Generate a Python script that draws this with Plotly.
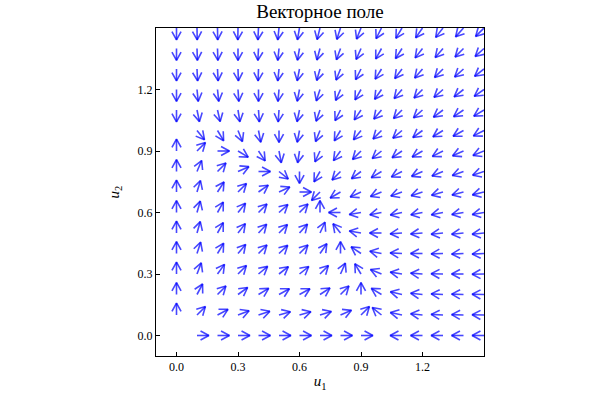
import math
import plotly.figure_factory as ff

# grid of points where the arrows start
u1_vals = [0.0, 0.1, 0.2, 0.3, 0.4, 0.5, 0.6, 0.7, 0.8, 0.9, 1.0, 1.1, 1.2, 1.3, 1.4, 1.5]
u2_vals = [0.0, 0.1, 0.2, 0.3, 0.4, 0.5, 0.6, 0.7, 0.8, 0.9, 1.0, 1.1, 1.2, 1.3, 1.4, 1.5]

# arrow direction (degrees, counter-clockwise from +u1),
# one list per row of u2; None = no arrow (rest point)
row_00 = [None, 0, 0, 0, 0, 0, 0, 0, 0, 0, None, 180, 180, 180, 180, 180]
row_01 = [90, 45, 28, 21, 18, 16, 16, 17, 23, 45, 141, 168, 174, 177, 178, 179]
row_02 = [90, 62, 45, 36, 31, 29, 29, 33, 45, 90, 149, 167, 174, 177, 178, 179]
row_03 = [90, 69, 54, 45, 40, 38, 39, 45, 66, 121, 158, 171, 176, 179, 180, 181]
row_04 = [90, 72, 59, 50, 45, 43, 45, 55, 90, 146, 169, 177, 180, 182, 183, 183]
row_05 = [90, 74, 61, 52, 47, 45, 48, 65, 129, 170, 180, 184, 185, 186, 186, 186]
row_06 = [90, 74, 61, 51, 45, 42, 45, 90, 180, 190, 191, 192, 191, 191, 190, 190]
row_07 = [90, 73, 57, 45, 35, 25, 0, 225, 210, 205, 202, 200, 198, 196, 195, 194]
row_08 = [90, 67, 45, 24, 0, 321, 270, 240, 225, 217, 211, 207, 204, 202, 200, 198]
row_09 = [90, 45, 0, 329, 304, 281, 261, 245, 234, 225, 219, 214, 210, 207, 204, 202]
row_10 = [None, 309, 301, 292, 281, 270, 259, 248, 239, 231, 225, 220, 216, 212, 209, 207]
row_11 = [270, 282, 283, 279, 274, 266, 258, 251, 243, 236, 230, 225, 221, 217, 214, 211]
row_12 = [270, 276, 276, 274, 270, 265, 259, 252, 246, 240, 235, 229, 225, 221, 218, 215]
row_13 = [270, 273, 273, 272, 268, 264, 259, 254, 248, 243, 238, 233, 229, 225, 222, 218]
row_14 = [270, 272, 272, 270, 267, 264, 260, 255, 250, 246, 241, 237, 232, 229, 225, 222]
row_15 = [270, 271, 271, 269, 267, 264, 260, 256, 252, 248, 243, 239, 235, 232, 228, 225]

rows = [row_00, row_01, row_02, row_03, row_04, row_05, row_06, row_07,
        row_08, row_09, row_10, row_11, row_12, row_13, row_14, row_15]

tick_vals = [0.0, 0.3, 0.6, 0.9, 1.2]

arrow_len = 0.058

x, y, u, v = [], [], [], []
for j, row in enumerate(rows):
    for i, ang in enumerate(row):
        if ang is None:
            continue
        a = math.radians(ang)
        x.append(u1_vals[i])
        y.append(u2_vals[j])
        u.append(arrow_len * math.cos(a))
        v.append(arrow_len * math.sin(a))

fig = ff.create_quiver(x, y, u, v, scale=1, arrow_scale=0.8, angle=0.5,
                       line=dict(color='rgba(0,0,255,0.72)', width=1.6),
                       hoverinfo='skip', showlegend=False)

serif = "Liberation Serif"
axis_style = dict(showgrid=False, zeroline=False, showline=True, mirror=True,
                  linecolor='black', linewidth=1, ticks='inside', ticklen=4,
                  tickcolor='black', tickvals=tick_vals, tickformat='.1f',
                  automargin=False,
                  tickfont=dict(family=serif, size=12, color='black'))

fig.update_layout(
    width=600, height=400,
    margin=dict(l=156, r=116, t=28, b=44),
    paper_bgcolor='white', plot_bgcolor='white',
    title=dict(text='Векторное поле', x=0.5, xref='paper', y=0.972, yanchor='middle',
               font=dict(family=serif, size=19, color='black')),
    xaxis=dict(range=[-0.1, 1.5],
               title=dict(text='<i>u</i><sub>1</sub>', standoff=2,
                          font=dict(family=serif, size=15, color='black')),
               **axis_style),
    yaxis=dict(range=[-0.1, 1.5],
               title=dict(text='<i>u</i><sub>2</sub>', standoff=14,
                          font=dict(family=serif, size=15, color='black')),
               **axis_style),
    showlegend=False,
)

# drop the browser's default page margin so the figure sits at the window corner
fig.write_html("out.html", config={'displayModeBar': False},
               post_script="document.body.style.margin = '0';")
